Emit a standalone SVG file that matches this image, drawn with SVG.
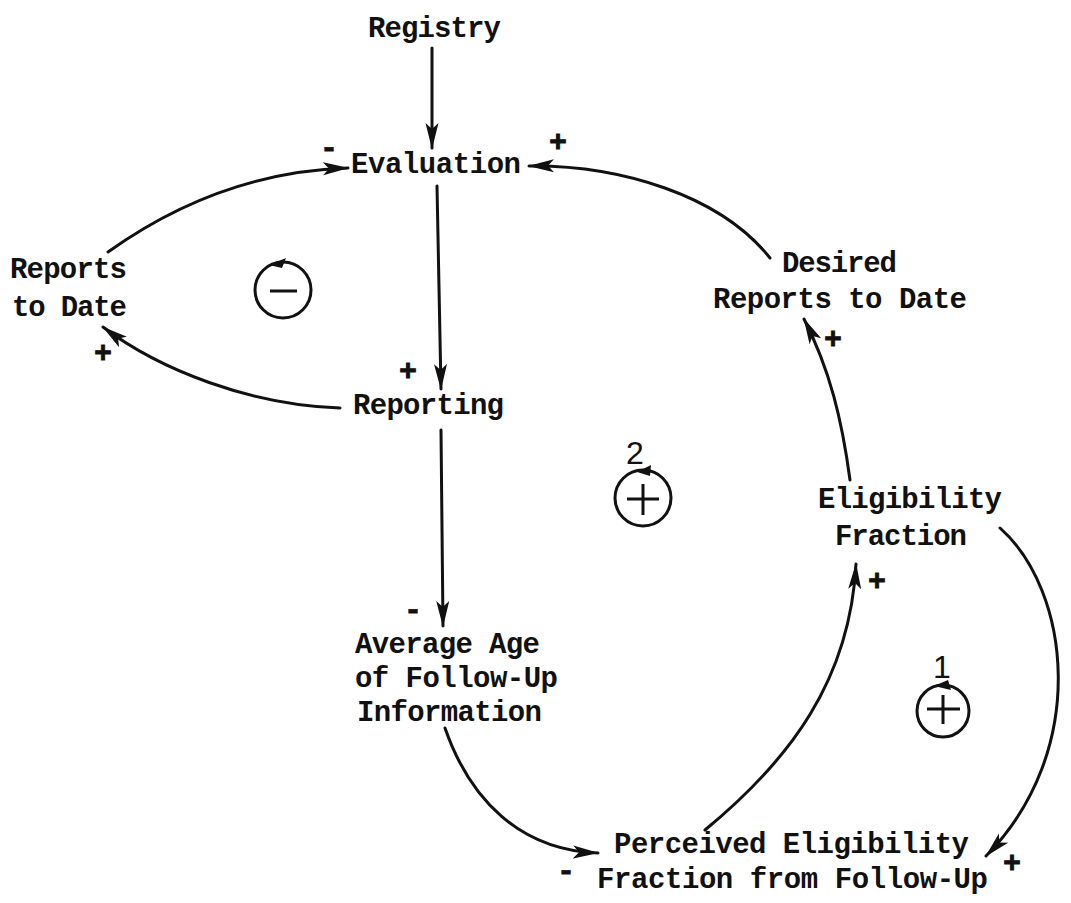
<svg xmlns="http://www.w3.org/2000/svg" width="1071" height="903" viewBox="0 0 1071 903">
  <style>
    .lbl { font-family: "Liberation Mono", "DejaVu Sans Mono", monospace; font-weight: bold; font-size: 29px; fill: #111; }
    .sign { font-family: "Liberation Mono", monospace; font-weight: bold; font-size: 30px; fill: #111; stroke: #111; stroke-width: 0.8; }
    .hand { font-family: "Liberation Sans", sans-serif; font-size: 32px; fill: #111; }
    .link { fill: none; stroke: #111; stroke-width: 3; stroke-linecap: round; marker-end: url(#ah); }
    .loop { fill: none; stroke: #111; stroke-width: 3; }
  </style>
  <defs>
    <marker id="ah" viewBox="0 0 26 16" refX="25" refY="8" markerWidth="26" markerHeight="16" markerUnits="userSpaceOnUse" orient="auto">
      <path d="M0,1.5 L26,8 L0,14.5 L6,8 Z" fill="#111"/>
    </marker>
  </defs>
  <rect width="1071" height="903" fill="#fff"/>

  <!-- connectors -->
  <g id="connectors">
    <path class="link" d="M432 48 L432 148"/>
    <path class="link" d="M108 252 Q220 172 348 168"/>
    <path class="link" d="M770 258 C720 195 620 165 529 166"/>
    <path class="link" d="M437 186 L441 389"/>
    <path class="link" d="M340 408 C250 405 160 370 103 327"/>
    <path class="link" d="M441 430 L443 626"/>
    <path class="link" d="M445 728 C470 800 520 850 598 853"/>
    <path class="link" d="M705 830 C790 760 850 680 856 564"/>
    <path class="link" d="M850 480 C842 420 830 370 804 319"/>
    <path class="link" d="M1000 528 C1070 590 1090 750 986 856"/>
    <!-- polarity signs -->
    <text class="sign" x="320" y="157">-</text>
    <text class="sign" x="549" y="151">+</text>
    <text class="sign" x="399" y="380">+</text>
    <text class="sign" x="94" y="362">+</text>
    <text class="sign" x="404" y="619">-</text>
    <text class="sign" x="557" y="880">-</text>
    <text class="sign" x="868" y="590">+</text>
    <text class="sign" x="824" y="348">+</text>
    <text class="sign" x="1003" y="872">+</text>
  </g>

  <!-- variables -->
  <g id="registry"><text class="lbl" x="368" y="37" textLength="133">Registry</text></g>
  <g id="evaluation"><text class="lbl" x="351" y="173" textLength="170">Evaluation</text></g>
  <g id="reports-to-date">
    <text class="lbl" x="10" y="278" textLength="117">Reports</text>
    <text class="lbl" x="12" y="316" textLength="115">to Date</text>
  </g>
  <g id="reporting"><text class="lbl" x="353" y="414" textLength="151">Reporting</text></g>
  <g id="average-age">
    <text class="lbl" x="355" y="653" textLength="185">Average Age</text>
    <text class="lbl" x="355" y="687" textLength="203">of Follow-Up</text>
    <text class="lbl" x="357" y="721" textLength="185">Information</text>
  </g>
  <g id="desired-reports">
    <text class="lbl" x="782" y="272" textLength="115">Desired</text>
    <text class="lbl" x="713" y="308" textLength="254">Reports to Date</text>
  </g>
  <g id="eligibility-fraction">
    <text class="lbl" x="818" y="508" textLength="184">Eligibility</text>
    <text class="lbl" x="835" y="545" textLength="132">Fraction</text>
  </g>
  <g id="perceived-eligibility">
    <text class="lbl" x="614" y="853" textLength="355">Perceived Eligibility</text>
    <text class="lbl" x="597" y="888" textLength="391">Fraction from Follow-Up</text>
  </g>

  <!-- loop markers -->
  <g id="loop-negative">
    <circle class="loop" cx="283" cy="290" r="28"/>
    <path d="M269 265 L286 258 L282 268 Z" fill="#111"/>
    <line x1="270" y1="291" x2="297" y2="291" stroke="#111" stroke-width="3"/>
  </g>
  <g id="loop-2">
    <circle class="loop" cx="643" cy="498" r="28"/>
    <path d="M637 472 L651 465 L650 476 Z" fill="#111"/>
    <line x1="627" y1="499" x2="659" y2="499" stroke="#111" stroke-width="3"/>
    <line x1="643" y1="484" x2="643" y2="515" stroke="#111" stroke-width="3"/>
    <text class="hand" x="626" y="464">2</text>
  </g>
  <g id="loop-1">
    <circle class="loop" cx="943" cy="711" r="26"/>
    <path d="M934 686 L948 680 L951 690 Z" fill="#111"/>
    <line x1="927" y1="709" x2="960" y2="709" stroke="#111" stroke-width="3"/>
    <line x1="943" y1="695" x2="943" y2="724" stroke="#111" stroke-width="3"/>
    <text class="hand" x="933" y="678">1</text>
  </g>
</svg>
